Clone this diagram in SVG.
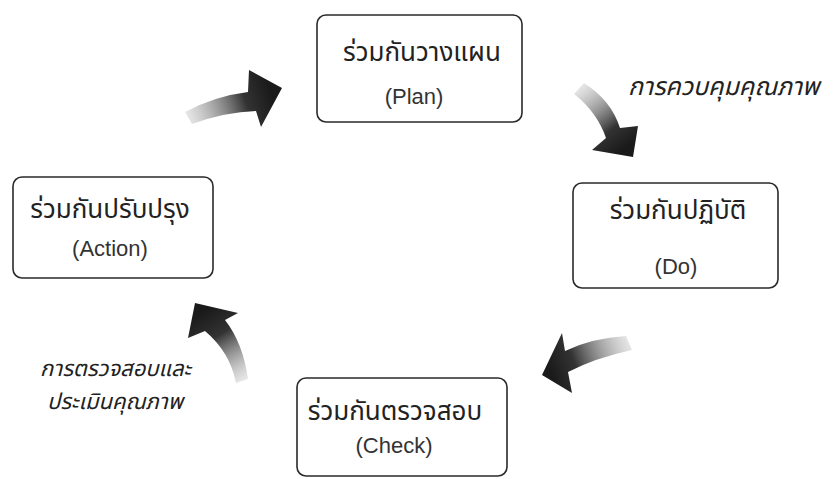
<svg xmlns="http://www.w3.org/2000/svg" width="837" height="479" viewBox="0 0 837 479">
<defs>
<style>
.box{fill:#fff;stroke:#2a2a2a;stroke-width:1.6}
.th{font-family:"Noto Sans Thai","Noto Sans","DejaVu Sans",sans-serif;font-size:26px;fill:#222;text-anchor:middle}
.en{font-family:"Liberation Sans",Arial,sans-serif;font-size:22px;fill:#333;text-anchor:middle}
.lbl{font-family:"Noto Sans Thai","Noto Sans","DejaVu Sans",sans-serif;font-size:25px;fill:#222;font-style:italic}
.lbl2{font-family:"Noto Sans Thai","Noto Sans","DejaVu Sans",sans-serif;font-size:22px;fill:#222;font-style:italic}
</style>
<linearGradient id="g1" gradientUnits="userSpaceOnUse" x1="185" y1="118" x2="270" y2="90"><stop offset="0" stop-color="#aaa" stop-opacity="0.25"/><stop offset="0.7" stop-color="#333"/><stop offset="1" stop-color="#1a1a1a"/></linearGradient>
<linearGradient id="g2" gradientUnits="userSpaceOnUse" x1="578" y1="86" x2="625" y2="148"><stop offset="0" stop-color="#aaa" stop-opacity="0.25"/><stop offset="0.7" stop-color="#333"/><stop offset="1" stop-color="#1a1a1a"/></linearGradient>
<linearGradient id="g3" gradientUnits="userSpaceOnUse" x1="632" y1="342" x2="550" y2="372"><stop offset="0" stop-color="#aaa" stop-opacity="0.25"/><stop offset="0.7" stop-color="#333"/><stop offset="1" stop-color="#1a1a1a"/></linearGradient>
<linearGradient id="g4" gradientUnits="userSpaceOnUse" x1="244" y1="382" x2="202" y2="312"><stop offset="0" stop-color="#aaa" stop-opacity="0.25"/><stop offset="0.65" stop-color="#333"/><stop offset="1" stop-color="#1a1a1a"/></linearGradient>
</defs>
<g id="connectors">
<path id="arrow-action-plan" fill="url(#g1)" d="M185,112 Q215,96 248,92 L249,70 L282,88 L261,127 L256,111 Q225,112 192,124 Z"/>
<path id="arrow-plan-do" fill="url(#g2)" d="M584,83 Q611,100 620,128 L638,126 L633,157 L592,150 L606,138 Q597,112 574,94 Z"/>
<path id="arrow-do-check" fill="url(#g3)" d="M562,333 L542,375 L572,393 L568,372 Q595,358 632,350 L626,336 Q592,338 565,351 Z"/>
<path id="arrow-check-action" fill="url(#g4)" d="M195,303 L238,313 L225,320 Q243,343 248,379 L236,383 Q230,352 205,331 L188,338 Z"/>
</g>
<g id="node-plan">
<rect class="box" x="317" y="15" width="205" height="107" rx="9"/>
<text class="th" x="422" y="61">ร่วมกันวางแผน</text>
<text class="en" x="414" y="104">(Plan)</text>
</g>
<g id="node-do">
<rect class="box" x="573" y="183" width="205" height="105" rx="9"/>
<text class="th" x="678" y="219">ร่วมกันปฏิบัติ</text>
<text class="en" x="676" y="274">(Do)</text>
</g>
<g id="node-action">
<rect class="box" x="13" y="177" width="200" height="101" rx="9"/>
<text class="th" x="110" y="218">ร่วมกันปรับปรุง</text>
<text class="en" x="110" y="256">(Action)</text>
</g>
<g id="node-check">
<rect class="box" x="297" y="378" width="210" height="98" rx="9"/>
<text class="th" x="395" y="420">ร่วมกันตรวจสอบ</text>
<text class="en" x="394" y="453">(Check)</text>
</g>
<g id="labels">
<text class="lbl" x="628" y="95">การควบคุมคุณภาพ</text>
<text class="lbl2" x="40" y="376">การตรวจสอบและ</text>
<text class="lbl2" x="47" y="409">ประเมินคุณภาพ</text>
</g>
</svg>
